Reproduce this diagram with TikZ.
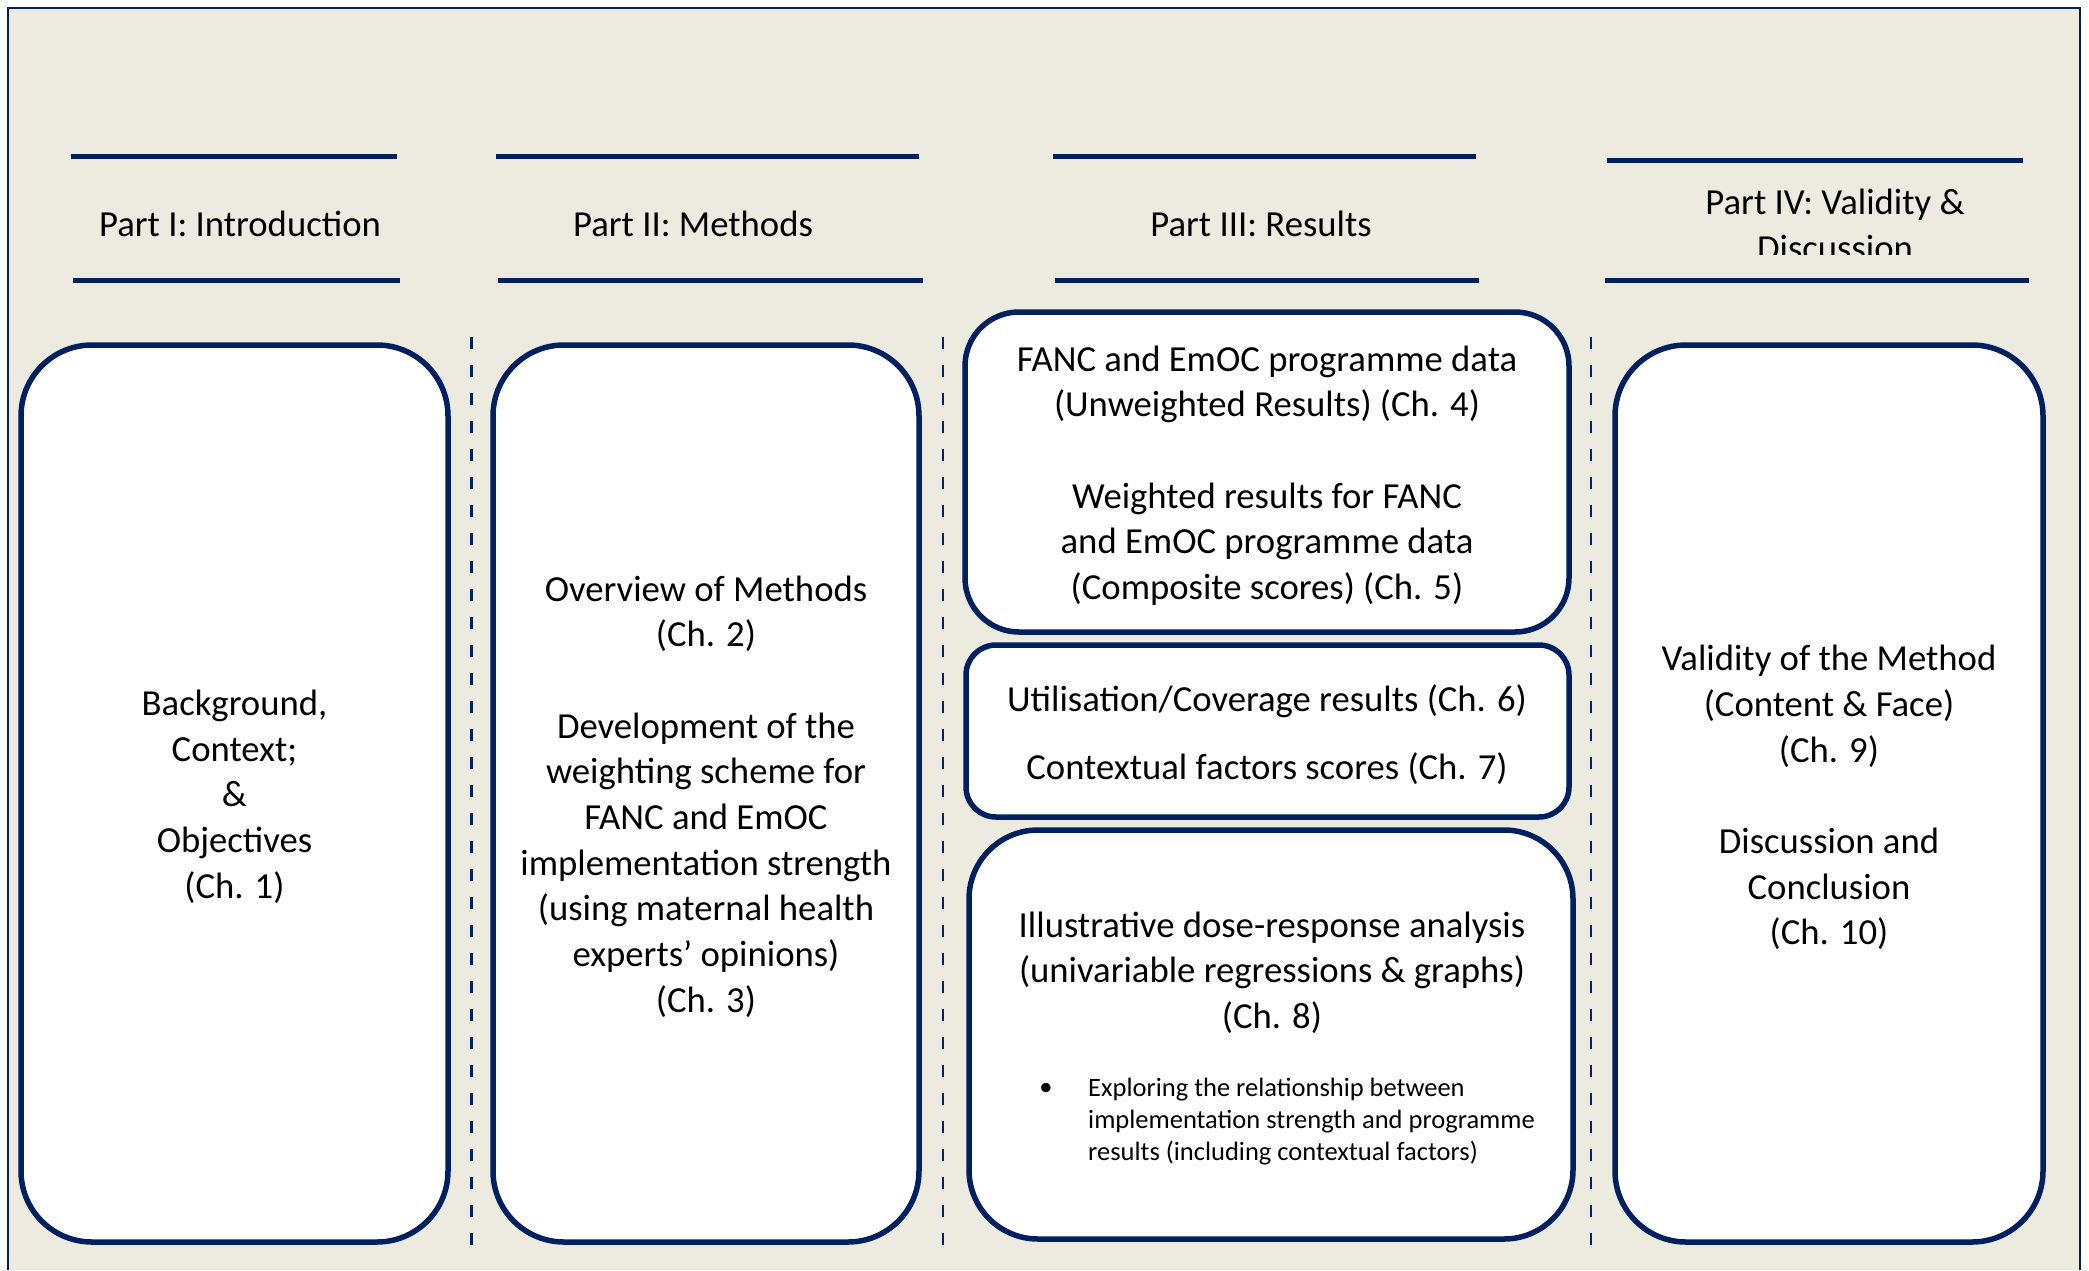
\documentclass[tikz,border=0pt]{standalone}
\usepackage{fontspec}
\setmainfont{Carlito}
\definecolor{navy}{RGB}{0,32,96}
\definecolor{paper}{RGB}{237,235,224}
\begin{document}
\begin{tikzpicture}[x=1pt,y=-1pt,
  panel/.style={draw=navy, line width=5.5pt, fill=white, rectangle, inner sep=0pt},
  rule/.style={draw=navy, line width=5pt},
  divider/.style={draw=navy, line width=2.5pt, dash pattern=on 12pt off 16pt},
  txt/.style={font=\fontsize{36.7}{45.7}\selectfont, align=center, inner sep=0pt, text=black},
  small/.style={font=\fontsize{26.5}{32}\selectfont, align=left, inner sep=0pt, text=black}
]
\useasboundingbox (0,0) rectangle (2089,1270);
\fill[white] (0,0) rectangle (2089,1270);
\fill[paper] (8,8) rectangle (2080,1270);
\draw[navy, line width=2pt] (8,1270) -- (8,8) -- (2080,8) -- (2080,1270);

% header rules
\draw[rule] (71,156) -- (397,156);  \draw[rule] (73,280) -- (400,280);
\draw[rule] (496,156) -- (919,156); \draw[rule] (498,280) -- (923,280);
\draw[rule] (1053,156) -- (1476,156); \draw[rule] (1055,280) -- (1479,280);
\draw[rule] (1607,160) -- (2023,160); \draw[rule] (1605,280) -- (2029,280);

% header titles
\node[txt] (h1) at (240,223.5) {Part I: Introduction};
\node[txt] (h2) at (693,223.5) {Part II: Methods};
\node[txt] (h3) at (1261,223.5) {Part III: Results};
\begin{scope}
  \clip (1600,120) rectangle (2070,254);
  \node[txt] (h4) at (1835,225) {Part IV: Validity \&\\Discussion};
\end{scope}

% column dividers
\coordinate (d1t) at (471.5,337); \coordinate (d1b) at (471.5,1255);
\coordinate (d2t) at (943,337);   \coordinate (d2b) at (943,1255);
\coordinate (d3t) at (1591,337);  \coordinate (d3b) at (1591,1255);
\draw[divider] (d1t) -- (d1b);
\draw[divider] (d2t) -- (d2b);
\draw[divider] (d3t) -- (d3b);

% part I
\node[panel, rounded corners=71pt, minimum width=427pt, minimum height=897pt] (b1) at (234.5,793.5) {};
\node[txt] (t1) at (234.5,796.5) {Background,\\Context;\\\&\\Objectives\\(Ch. 1)};

% part II
\node[panel, rounded corners=71pt, minimum width=426pt, minimum height=897pt] (b2) at (706,793.5) {};
\node[txt] (t2) at (706,796.5) {Overview of Methods\\(Ch. 2)\\[45.7pt]Development of the\\weighting scheme for\\FANC and EmOC\\implementation strength\\(using maternal health\\experts’ opinions)\\(Ch. 3)};

% part III
\node[panel, rounded corners=54pt, minimum width=604pt, minimum height=320pt] (b3a) at (1267,472) {};
\node[txt] (t3a) at (1267,475.5) {FANC and EmOC programme data\\(Unweighted Results) (Ch. 4)\\[45.7pt]Weighted results for FANC\\and EmOC programme data\\(Composite scores) (Ch. 5)};

\node[panel, rounded corners=30pt, minimum width=603pt, minimum height=172pt] (b3b) at (1267.5,731) {};
\node[txt] (t3b) at (1267,734.5) {Utilisation/Coverage results (Ch. 6)\\[22.3pt]Contextual factors scores (Ch. 7)};

\node[panel, rounded corners=69pt, minimum width=604pt, minimum height=409pt] (b3c) at (1271,1034.5) {};
\node[txt] (t3c) at (1272,972.5) {Illustrative dose-response analysis\\(univariable regressions \& graphs)\\(Ch. 8)};
\node[small, anchor=center] (dot) at (1046,1089.5) {•};
\node[small, anchor=west] (t3d) at (1088,1122) {Exploring the relationship between\\implementation strength and programme\\results (including contextual factors)};

% part IV
\node[panel, rounded corners=71pt, minimum width=428pt, minimum height=897pt] (b4) at (1829,793.5) {};
\node[txt] (t4) at (1829,797.5) {Validity of the Method\\(Content \& Face)\\(Ch. 9)\\[45.7pt]Discussion and\\Conclusion\\(Ch. 10)};
\end{tikzpicture}
\end{document}
